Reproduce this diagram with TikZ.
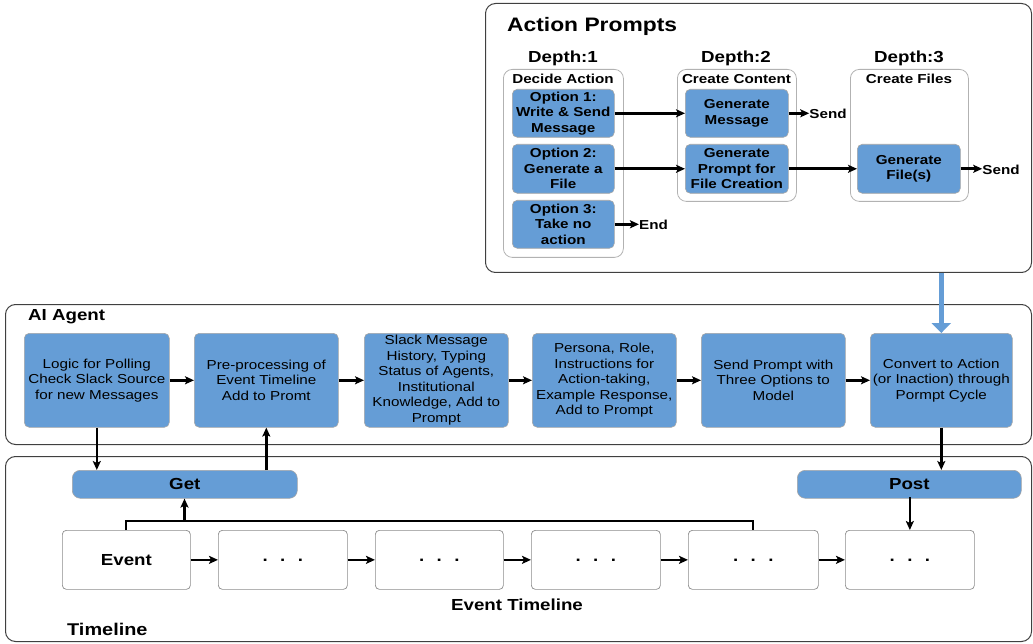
\documentclass[tikz,border=0pt]{standalone}
\usepackage{fontspec}
\setmainfont[FakeStretch=1.17]{Liberation Sans}
\usetikzlibrary{arrows.meta}
\definecolor{boxblue}{RGB}{101,157,214}
\begin{document}
\begin{tikzpicture}[x=1pt,y=-1pt,
  outer/.style={draw=black!75, line width=1pt, rounded corners=10pt, anchor=north west, inner sep=0pt},
  cont/.style={draw=black!30, line width=0.8pt, rounded corners=9pt, anchor=north west, inner sep=0pt},
  bbox/.style={draw=black!35, fill=boxblue, line width=0.6pt, rounded corners=5pt, anchor=north west, inner sep=0pt, align=center, font=\fontsize{13}{15.5}\selectfont},
  bboxb/.style={bbox, font=\fontsize{13}{15.5}\selectfont\bfseries},
  evbox/.style={draw=black!45, fill=white, line width=0.7pt, rounded corners=4pt, anchor=north west, inner sep=0pt, minimum height=59pt, font=\fontsize{16}{18}\selectfont\bfseries},
  bar/.style={draw=black!35, fill=boxblue, line width=0.6pt, rounded corners=8pt, anchor=north west, inner sep=0pt, minimum height=28pt, font=\fontsize{16}{18}\selectfont\bfseries},
  lbl/.style={inner sep=0pt, font=\fontsize{13}{15.5}\selectfont\bfseries},
  depth/.style={inner sep=0pt, font=\fontsize{16}{18}\selectfont\bfseries},
  arr/.style={line width=2.6pt, -{Stealth[length=9pt,width=8pt,inset=2pt]}},
  bigarr/.style={line width=5pt, draw=boxblue, -{Triangle[length=10pt,width=19pt,fill=boxblue]}}
]
\useasboundingbox (0,0) rectangle (1033,644);
\newcommand{\dotsrow}{.\hspace{12.5pt}.\hspace{12.5pt}.}

% outer frames
\node[outer, minimum width=546, minimum height=269] (ap) at (485,3) {};
\node[outer, minimum width=1026, minimum height=140] (ai) at (5,304) {};
\node[outer, minimum width=1026, minimum height=185] (tl) at (5,456) {};

% Action prompts
\node[anchor=west, inner sep=0pt, font=\fontsize{19.5}{22}\selectfont\bfseries] (aptitle) at (507,26) {Action Prompts};
\node[depth] (d1) at (563,58) {Depth:1};
\node[depth] (d2) at (736,58) {Depth:2};
\node[depth] (d3) at (909,58) {Depth:3};

\node[cont, minimum width=120, minimum height=188] (c1) at (503,69) {};
\node[cont, minimum width=119, minimum height=132] (c2) at (677,69) {};
\node[cont, minimum width=118, minimum height=132] (c3) at (850,69) {};
\node[lbl] (c1t) at (563,79) {Decide Action};
\node[lbl] (c2t) at (736.5,79) {Create Content};
\node[lbl] (c3t) at (909,79) {Create Files};

\node[bboxb, minimum width=102, minimum height=48] (o1) at (512,89) {Option 1:\\Write \& Send\\Message};
\node[bboxb, minimum width=102, minimum height=49] (o2) at (512,144) {Option 2:\\Generate a\\File};
\node[bboxb, minimum width=102, minimum height=48] (o3) at (512,200) {Option 3:\\Take no\\action};
\node[bboxb, minimum width=103, minimum height=48] (gm) at (685,89) {Generate\\Message};
\node[bboxb, minimum width=103, minimum height=49] (gp) at (685,144) {Generate\\Prompt for\\File Creation};
\node[bboxb, minimum width=103, minimum height=49] (gf) at (857,144) {Generate\\File(s)};

\node[lbl] (send1) at (828,114) {Send};
\node[lbl] (send2) at (1001,169.5) {Send};
\node[lbl] (endl) at (653.5,225) {End};

\draw[arr] (o1.east) -- (gm.west);
\draw[arr] (o2.east) -- (gp.west);
\draw[arr] (gp.east) -- (gp.east -| gf.west);
\draw[arr] (gm.east) -- (gm.east -| send1.west);
\draw[arr] (gf.east) -- (gf.east -| send2.west);
\draw[arr] (o3.east) -- (o3.east -| endl.west);

% AI agent
\node[anchor=west, inner sep=0pt, font=\fontsize{16}{18}\selectfont\bfseries] (aititle) at (28,317) {AI Agent};
\node[bbox, minimum width=145, minimum height=94] (n1) at (24,333) {Logic for Polling\\Check Slack Source\\for new Messages};
\node[bbox, minimum width=144, minimum height=94] (n2) at (194,333) {Pre-processing of\\Event Timeline\\Add to Promt};
\node[bbox, minimum width=144, minimum height=94] (n3) at (364,333) {Slack Message\\History, Typing\\Status of Agents,\\Institutional\\Knowledge, Add to\\Prompt};
\node[bbox, minimum width=144, minimum height=94] (n4) at (532,333) {Persona, Role,\\Instructions for\\Action-taking,\\Example Response,\\Add to Prompt};
\node[bbox, minimum width=144, minimum height=94] (n5) at (701,333) {Send Prompt with\\Three Options to\\Model};
\node[bbox, minimum width=142, minimum height=94] (n6) at (870,333) {Convert to Action\\(or Inaction) through\\Pormpt Cycle};

\draw[arr] (n1.east) -- (n2.west);
\draw[arr] (n2.east) -- (n3.west);
\draw[arr] (n3.east) -- (n4.west);
\draw[arr] (n4.east) -- (n5.west);
\draw[arr] (n5.east) -- (n6.west);

\draw[bigarr] (ap.south -| n6.north) -- (n6.north);

% Timeline
\node[anchor=west, inner sep=0pt, font=\fontsize{17}{19}\selectfont\bfseries] (tltitle) at (67,629) {Timeline};
\node[bar, minimum width=225] (get) at (72,470) {Get};
\node[bar, minimum width=224] (post) at (797,470) {Post};

\node[evbox, minimum width=128] (e1) at (62,530) {Event};
\node[evbox, minimum width=129] (e2) at (218,530) {\dotsrow};
\node[evbox, minimum width=128] (e3) at (375,530) {\dotsrow};
\node[evbox, minimum width=129] (e4) at (531,530) {\dotsrow};
\node[evbox, minimum width=130] (e5) at (688,530) {\dotsrow};
\node[evbox, minimum width=129] (e6) at (845,530) {\dotsrow};
\node[inner sep=0pt, font=\fontsize{16}{18}\selectfont\bfseries] (etl) at (517,605) {Event Timeline};

\draw[arr] (e1.east) -- (e2.west);
\draw[arr] (e2.east) -- (e3.west);
\draw[arr] (e3.east) -- (e4.west);
\draw[arr] (e4.east) -- (e5.west);
\draw[arr] (e5.east) -- (e6.west);

\draw[arr] (n1.south) -- (n1.south |- get.north);
\draw[arr] (get.north -| n2.south) -- (n2.south);
\draw[arr] (n6.south) -- (n6.south |- post.north);
\draw[arr] (post.south) -- (post.south -| e6.north) -- (e6.north);

\coordinate (br) at (184.5,521);
\draw[line width=2.2pt] (e1.north) -- (e1.north |- br) -| (e5.north);
\draw[arr] (br) -- (get.south -| br);
\end{tikzpicture}
\end{document}
